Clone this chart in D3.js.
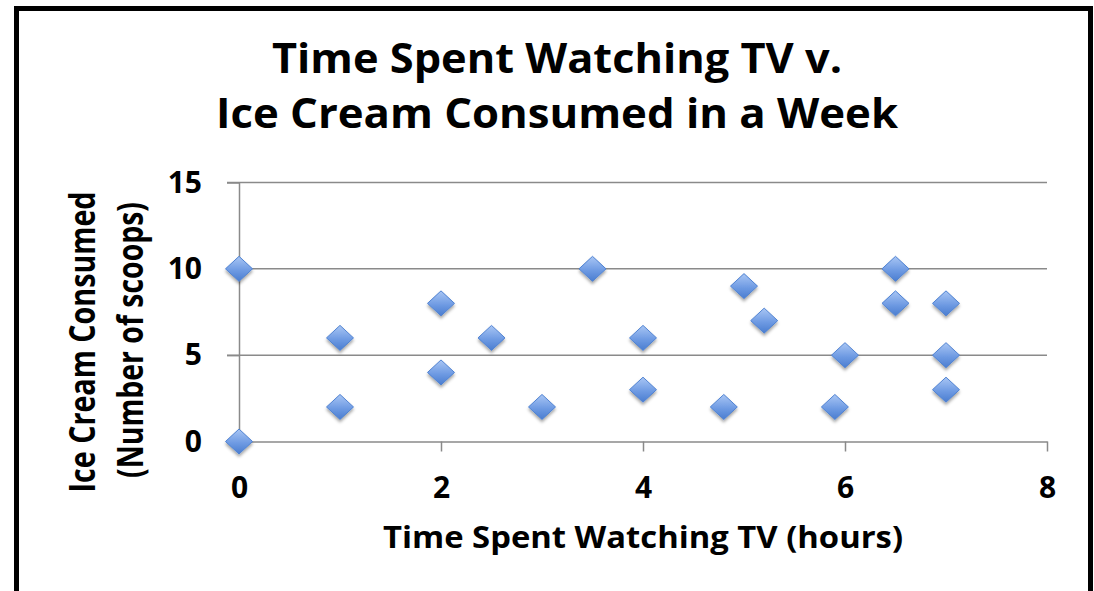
<!DOCTYPE html>
<html>
<head>
<meta charset="utf-8">
<script src="https://cdn.jsdelivr.net/npm/d3@7"></script>
<style>
  html, body { margin: 0; padding: 0; background: #fff; }
  svg { display: block; font-family: 'Open Sans', 'DejaVu Sans', sans-serif; }
</style>
</head>
<body>
<svg id="chart" width="1094" height="591"></svg>
<script>
// hours of TV watched
const hours = [0, 0, 1, 1, 2, 2, 2.5, 3, 3.5, 4, 4, 4.8, 5, 5.2, 5.9, 6, 6.5, 6.5, 7, 7, 7];
// scoops of ice cream
const scoops = [10, 0, 6, 2, 8, 4, 6, 2, 10, 6, 3, 2, 9, 7, 2, 5, 10, 8, 8, 5, 3];
const xTicks = [0, 2, 4, 6, 8];
const yTicks = [0, 5, 10, 15];
const titleLines = ['Time Spent Watching TV v.', 'Ice Cream Consumed in a Week'];
const xLabel = 'Time Spent Watching TV (hours)';
const yLabelLines = ['Ice Cream Consumed', '(Number of scoops)'];

const svg = d3.select('#chart');
const width = +svg.attr('width');
const height = +svg.attr('height');

const plot = { left: 239, right: 1047, top: 182.5, bottom: 441.5 };

const x = d3.scaleLinear().domain([0, 8]).range([plot.left, plot.right]);
const y = d3.scaleLinear().domain([0, 15]).range([plot.bottom, plot.top]);

svg.append('rect').attr('width', width).attr('height', height).attr('fill', '#fff');

// outer frame (bottom edge falls outside the picture)
svg.append('rect')
  .attr('x', 16.5)
  .attr('y', 8.5)
  .attr('width', 1074)
  .attr('height', 700)
  .attr('fill', 'none')
  .attr('stroke', '#000')
  .attr('stroke-width', 5);

const defs = svg.append('defs');
const grad = defs.append('linearGradient')
  .attr('id', 'marker-fill')
  .attr('x1', 0).attr('y1', 0).attr('x2', 0).attr('y2', 1);
grad.append('stop').attr('offset', '0%').attr('stop-color', '#a9c6f4');
grad.append('stop').attr('offset', '55%').attr('stop-color', '#6f9be3');
grad.append('stop').attr('offset', '100%').attr('stop-color', '#4a7dd0');

const shadow = defs.append('filter')
  .attr('id', 'shadow')
  .attr('x', '-50%').attr('y', '-50%').attr('width', '200%').attr('height', '200%');
shadow.append('feDropShadow')
  .attr('dx', 0)
  .attr('dy', 2.5)
  .attr('stdDeviation', 1.8)
  .attr('flood-color', '#000')
  .attr('flood-opacity', 0.35);

// title
svg.append('g')
  .selectAll('text')
  .data(titleLines)
  .join('text')
  .attr('x', 557)
  .attr('y', (_, i) => 73 + i * 55)
  .attr('text-anchor', 'middle')
  .attr('font-size', 40.5)
  .attr('font-weight', 'bold')
  .attr('fill', '#000')
  .attr('textLength', (_, i) => [570, 682][i])
  .attr('lengthAdjust', 'spacingAndGlyphs')
  .text((d) => d);

// horizontal gridlines
svg.append('g')
  .selectAll('line')
  .data(yTicks.filter((d) => d > 0))
  .join('line')
  .attr('x1', x(0) - 12)
  .attr('x2', x(8))
  .attr('y1', (d) => y(d))
  .attr('y2', (d) => y(d))
  .attr('stroke', '#8a8a8a')
  .attr('stroke-width', 1.5);

// y axis
const yAxis = svg.append('g')
  .attr('transform', `translate(${x(0)},0)`)
  .call(d3.axisLeft(y).tickValues(yTicks).tickSize(12).tickSizeOuter(0).tickPadding(25));

// x axis
const xAxis = svg.append('g')
  .attr('transform', `translate(0,${y(0)})`)
  .call(d3.axisBottom(x).tickValues(xTicks).tickSize(10).tickSizeOuter(0).tickPadding(25));

[xAxis, yAxis].forEach((ax) => {
  ax.select('.domain').attr('stroke', '#8a8a8a').attr('stroke-width', 1.5);
  ax.selectAll('.tick line').attr('stroke', '#8a8a8a').attr('stroke-width', 1.5);
  ax.selectAll('.tick text')
    .attr('font-family', "'Open Sans', sans-serif")
    .attr('font-size', 30)
    .attr('font-weight', 'bold')
    .attr('fill', '#000');
});

// x axis title
svg.append('text')
  .attr('x', 643)
  .attr('y', 548)
  .attr('text-anchor', 'middle')
  .attr('font-size', 29.5)
  .attr('font-weight', 'bold')
  .attr('textLength', 520)
  .attr('lengthAdjust', 'spacingAndGlyphs')
  .text(xLabel);

// y axis title, two rotated lines
svg.append('g')
  .selectAll('text')
  .data(yLabelLines)
  .join('text')
  .attr('transform', (_, i) => `translate(${95 + i * 48},${[342, 340][i]}) rotate(-90)`)
  .attr('text-anchor', 'middle')
  .attr('font-size', 35)
  .attr('font-weight', 'bold')
  .attr('textLength', (_, i) => [301, 276][i])
  .attr('lengthAdjust', 'spacingAndGlyphs')
  .text((d) => d);

// diamonds
const hw = 13.5;
const hh = 12.5;
const points = hours.map((h, i) => ({ h, s: scoops[i] }));

svg.append('g')
  .selectAll('path')
  .data(points)
  .join('path')
  .attr('transform', (d) => `translate(${x(d.h)},${y(d.s)})`)
  .attr('d', `M0,${-hh}L${hw},0L0,${hh}L${-hw},0Z`)
  .attr('fill', 'url(#marker-fill)')
  .attr('stroke', '#4f82d2')
  .attr('stroke-width', 1)
  .attr('filter', 'url(#shadow)');
</script>
</body>
</html>
